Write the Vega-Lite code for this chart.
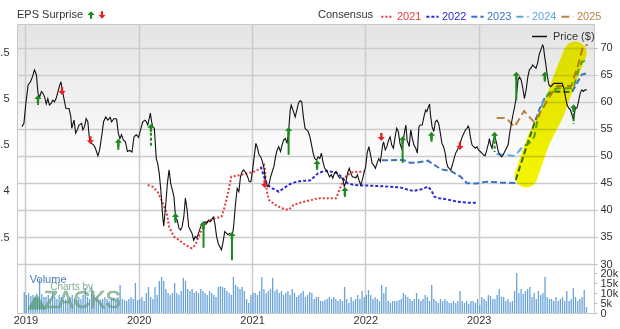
{
  "$schema": "https://vega.github.io/schema/vega-lite/v6.json",
  "width": 577,
  "height": 289,
  "autosize": "none",
  "padding": {"left": 17, "top": 24, "right": 26, "bottom": 16},
  "background": "#ffffff",
  "config": {
    "font": "Liberation Sans",
    "view": {"stroke": "#c8c8c8", "strokeWidth": 1, "fill": {"gradient": "linear", "x1": 0, "y1": 0, "x2": 0, "y2": 1, "stops": [{"offset": 0, "color": "#e4e4e4"}, {"offset": 0.25, "color": "#f0f0f0"}, {"offset": 0.5, "color": "#ffffff"}, {"offset": 1, "color": "#ffffff"}]}},
    "axis": {"labelFont": "Liberation Sans", "labelFontSize": 11, "labelColor": "#333333", "title": null, "labelOverlap": false},
    "legend": {"labelFont": "Liberation Sans", "titleFont": "Liberation Sans"}
  },
  "datasets": {
    "price": [
      {"t":2018.970,"p":55.4},{"t":2018.987,"p":56.0},{"t":2019.004,"p":59.7},{"t":2019.024,"p":63.1},{"t":2019.045,"p":63.7},{"t":2019.062,"p":64.6},{"t":2019.080,"p":65.9},{"t":2019.097,"p":65.0},{"t":2019.111,"p":61.6},{"t":2019.126,"p":60.9},{"t":2019.141,"p":61.9},{"t":2019.154,"p":61.6},{"t":2019.169,"p":60.9},{"t":2019.184,"p":59.6},{"t":2019.198,"p":60.6},{"t":2019.212,"p":59.4},{"t":2019.227,"p":59.7},{"t":2019.241,"p":60.3},{"t":2019.256,"p":60.0},{"t":2019.271,"p":60.6},{"t":2019.284,"p":61.6},{"t":2019.299,"p":62.8},{"t":2019.314,"p":63.7},{"t":2019.328,"p":61.9},{"t":2019.343,"p":60.3},{"t":2019.357,"p":58.8},{"t":2019.386,"p":58.7},{"t":2019.401,"p":57.2},{"t":2019.409,"p":55.1},{"t":2019.429,"p":56.6},{"t":2019.444,"p":54.2},{"t":2019.458,"p":54.8},{"t":2019.473,"p":55.7},{"t":2019.496,"p":56.0},{"t":2019.507,"p":54.8},{"t":2019.522,"p":55.4},{"t":2019.536,"p":56.9},{"t":2019.551,"p":56.3},{"t":2019.559,"p":54.5},{"t":2019.568,"p":52.6},{"t":2019.583,"p":52.3},{"t":2019.603,"p":52.0},{"t":2019.618,"p":51.4},{"t":2019.640,"p":50.0},{"t":2019.655,"p":51.1},{"t":2019.675,"p":53.9},{"t":2019.690,"p":56.3},{"t":2019.709,"p":57.2},{"t":2019.727,"p":56.6},{"t":2019.748,"p":57.1},{"t":2019.761,"p":56.3},{"t":2019.782,"p":56.9},{"t":2019.805,"p":56.8},{"t":2019.820,"p":54.2},{"t":2019.834,"p":53.2},{"t":2019.848,"p":53.9},{"t":2019.866,"p":52.9},{"t":2019.883,"p":52.6},{"t":2019.900,"p":50.8},{"t":2019.921,"p":51.0},{"t":2019.941,"p":50.7},{"t":2019.958,"p":53.5},{"t":2019.978,"p":53.9},{"t":2019.999,"p":53.4},
      {"t":2020.016,"p":54.8},{"t":2020.036,"p":56.3},{"t":2020.054,"p":56.6},{"t":2020.068,"p":56.3},{"t":2020.080,"p":55.7},{"t":2020.095,"p":57.1},{"t":2020.103,"p":57.9},{"t":2020.114,"p":56.3},{"t":2020.123,"p":55.4},{"t":2020.138,"p":55.1},{"t":2020.155,"p":49.5},{"t":2020.167,"p":48.6},{"t":2020.181,"p":46.8},{"t":2020.195,"p":43.7},{"t":2020.212,"p":38.7},{"t":2020.221,"p":37.0},{"t":2020.238,"p":40.9},{"t":2020.253,"p":44.9},{"t":2020.268,"p":47.4},{"t":2020.282,"p":44.9},{"t":2020.297,"p":43.7},{"t":2020.311,"p":42.4},{"t":2020.325,"p":38.7},{"t":2020.340,"p":38.1},{"t":2020.355,"p":36.6},{"t":2020.369,"p":36.3},{"t":2020.383,"p":36.9},{"t":2020.398,"p":38.7},{"t":2020.412,"p":42.2},{"t":2020.427,"p":40.0},{"t":2020.441,"p":36.9},{"t":2020.455,"p":36.3},{"t":2020.470,"p":35.7},{"t":2020.485,"p":34.4},{"t":2020.499,"p":35.1},{"t":2020.513,"p":34.8},{"t":2020.528,"p":35.7},{"t":2020.542,"p":36.6},{"t":2020.557,"p":37.5},{"t":2020.572,"p":37.5},{"t":2020.585,"p":37.8},{"t":2020.600,"p":37.5},{"t":2020.615,"p":38.1},{"t":2020.629,"p":37.8},{"t":2020.643,"p":38.1},{"t":2020.658,"p":38.7},{"t":2020.672,"p":37.5},{"t":2020.687,"p":35.1},{"t":2020.702,"p":33.8},{"t":2020.716,"p":33.2},{"t":2020.730,"p":32.6},{"t":2020.745,"p":34.1},{"t":2020.759,"p":36.0},{"t":2020.774,"p":35.7},{"t":2020.788,"p":35.4},{"t":2020.802,"p":35.7},{"t":2020.817,"p":35.4},{"t":2020.832,"p":36.0},{"t":2020.840,"p":37.5},{"t":2020.852,"p":40.6},{"t":2020.869,"p":44.0},{"t":2020.884,"p":43.4},{"t":2020.898,"p":46.1},{"t":2020.912,"p":47.1},{"t":2020.927,"p":47.4},{"t":2020.947,"p":46.8},{"t":2020.962,"p":46.1},{"t":2020.976,"p":45.2},{"t":2020.990,"p":45.2},
      {"t":2021.005,"p":47.4},{"t":2021.019,"p":49.8},{"t":2021.034,"p":52.3},{"t":2021.049,"p":51.4},{"t":2021.062,"p":50.2},{"t":2021.077,"p":49.8},{"t":2021.092,"p":48.9},{"t":2021.106,"p":47.7},{"t":2021.121,"p":44.9},{"t":2021.135,"p":44.3},{"t":2021.149,"p":44.6},{"t":2021.164,"p":46.1},{"t":2021.179,"p":47.1},{"t":2021.193,"p":48.0},{"t":2021.207,"p":49.8},{"t":2021.222,"p":51.1},{"t":2021.236,"p":51.7},{"t":2021.251,"p":50.8},{"t":2021.265,"p":52.0},{"t":2021.279,"p":52.9},{"t":2021.294,"p":53.2},{"t":2021.309,"p":52.3},{"t":2021.323,"p":54.5},{"t":2021.337,"p":58.5},{"t":2021.346,"p":59.4},{"t":2021.361,"p":58.5},{"t":2021.381,"p":57.2},{"t":2021.396,"p":58.5},{"t":2021.409,"p":59.7},{"t":2021.424,"p":60.2},{"t":2021.439,"p":60.0},{"t":2021.453,"p":57.2},{"t":2021.468,"p":55.1},{"t":2021.496,"p":54.5},{"t":2021.511,"p":53.5},{"t":2021.526,"p":52.0},{"t":2021.539,"p":50.5},{"t":2021.554,"p":49.5},{"t":2021.569,"p":49.2},{"t":2021.583,"p":49.8},{"t":2021.598,"p":49.5},{"t":2021.612,"p":50.5},{"t":2021.626,"p":48.9},{"t":2021.641,"p":47.7},{"t":2021.656,"p":47.4},{"t":2021.670,"p":46.8},{"t":2021.684,"p":46.1},{"t":2021.699,"p":46.5},{"t":2021.713,"p":45.9},{"t":2021.728,"p":46.8},{"t":2021.742,"p":47.1},{"t":2021.756,"p":46.5},{"t":2021.771,"p":45.9},{"t":2021.786,"p":45.9},{"t":2021.800,"p":45.9},{"t":2021.814,"p":44.3},{"t":2021.829,"p":45.2},{"t":2021.843,"p":46.8},{"t":2021.858,"p":47.7},{"t":2021.872,"p":46.8},{"t":2021.886,"p":46.1},{"t":2021.901,"p":46.1},{"t":2021.916,"p":45.9},{"t":2021.930,"p":46.5},{"t":2021.944,"p":45.5},{"t":2021.959,"p":44.6},{"t":2021.973,"p":45.5},{"t":2021.988,"p":46.8},
      {"t":2022.003,"p":48.0},{"t":2022.016,"p":50.5},{"t":2022.031,"p":51.7},{"t":2022.046,"p":50.2},{"t":2022.060,"p":48.6},{"t":2022.074,"p":48.3},{"t":2022.089,"p":47.7},{"t":2022.103,"p":48.6},{"t":2022.118,"p":49.5},{"t":2022.133,"p":48.9},{"t":2022.141,"p":50.2},{"t":2022.153,"p":52.0},{"t":2022.161,"p":52.6},{"t":2022.176,"p":51.1},{"t":2022.190,"p":51.7},{"t":2022.205,"p":52.9},{"t":2022.219,"p":53.5},{"t":2022.233,"p":52.0},{"t":2022.248,"p":51.4},{"t":2022.263,"p":53.5},{"t":2022.277,"p":55.1},{"t":2022.291,"p":54.5},{"t":2022.306,"p":52.3},{"t":2022.320,"p":51.4},{"t":2022.335,"p":52.9},{"t":2022.349,"p":54.8},{"t":2022.358,"p":55.7},{"t":2022.369,"p":52.9},{"t":2022.387,"p":51.7},{"t":2022.401,"p":54.8},{"t":2022.415,"p":53.2},{"t":2022.429,"p":52.0},{"t":2022.445,"p":51.4},{"t":2022.459,"p":50.5},{"t":2022.473,"p":55.4},{"t":2022.485,"p":55.7},{"t":2022.502,"p":55.7},{"t":2022.517,"p":57.2},{"t":2022.532,"p":58.5},{"t":2022.543,"p":58.2},{"t":2022.558,"p":59.1},{"t":2022.567,"p":59.6},{"t":2022.575,"p":57.6},{"t":2022.589,"p":55.4},{"t":2022.604,"p":54.5},{"t":2022.618,"p":56.3},{"t":2022.632,"p":56.6},{"t":2022.647,"p":56.0},{"t":2022.662,"p":54.2},{"t":2022.676,"p":52.3},{"t":2022.690,"p":51.7},{"t":2022.705,"p":50.5},{"t":2022.716,"p":48.9},{"t":2022.727,"p":48.0},{"t":2022.740,"p":47.7},{"t":2022.754,"p":47.4},{"t":2022.768,"p":48.3},{"t":2022.783,"p":49.5},{"t":2022.797,"p":50.5},{"t":2022.812,"p":51.1},{"t":2022.827,"p":51.8},{"t":2022.840,"p":52.6},{"t":2022.855,"p":53.5},{"t":2022.870,"p":54.2},{"t":2022.884,"p":54.8},{"t":2022.898,"p":55.1},{"t":2022.907,"p":55.5},{"t":2022.916,"p":55.1},{"t":2022.927,"p":53.5},{"t":2022.942,"p":52.0},{"t":2022.957,"p":51.7},{"t":2022.970,"p":51.4},{"t":2022.985,"p":51.7},
      {"t":2023.000,"p":51.1},{"t":2023.014,"p":50.8},{"t":2023.029,"p":50.5},{"t":2023.043,"p":50.2},{"t":2023.057,"p":50.0},{"t":2023.072,"p":51.1},{"t":2023.087,"p":52.3},{"t":2023.095,"p":53.2},{"t":2023.107,"p":52.0},{"t":2023.118,"p":51.4},{"t":2023.130,"p":52.9},{"t":2023.144,"p":53.5},{"t":2023.159,"p":52.3},{"t":2023.173,"p":50.8},{"t":2023.187,"p":50.2},{"t":2023.202,"p":49.8},{"t":2023.217,"p":50.2},{"t":2023.231,"p":50.8},{"t":2023.245,"p":51.4},{"t":2023.260,"p":52.0},{"t":2023.274,"p":54.2},{"t":2023.289,"p":56.0},{"t":2023.303,"p":57.6},{"t":2023.318,"p":59.1},{"t":2023.333,"p":60.9},{"t":2023.347,"p":64.0},{"t":2023.361,"p":64.6},{"t":2023.376,"p":64.0},{"t":2023.390,"p":62.5},{"t":2023.404,"p":60.6},{"t":2023.419,"p":62.2},{"t":2023.434,"p":64.6},{"t":2023.448,"p":65.9},{"t":2023.462,"p":66.2},{"t":2023.477,"p":66.8},{"t":2023.491,"p":66.5},{"t":2023.506,"p":66.2},{"t":2023.520,"p":67.1},{"t":2023.534,"p":68.7},{"t":2023.549,"p":69.6},{"t":2023.564,"p":70.5},{"t":2023.572,"p":70.2},{"t":2023.583,"p":68.3},{"t":2023.592,"p":67.1},{"t":2023.607,"p":64.6},{"t":2023.621,"p":63.1},{"t":2023.636,"p":62.8},{"t":2023.650,"p":63.1},{"t":2023.664,"p":63.4},{"t":2023.694,"p":63.4},{"t":2023.737,"p":63.4},{"t":2023.752,"p":62.5},{"t":2023.766,"p":60.9},{"t":2023.781,"p":59.4},{"t":2023.795,"p":58.8},{"t":2023.809,"p":58.5},{"t":2023.824,"p":57.6},{"t":2023.838,"p":56.6},{"t":2023.853,"p":58.8},{"t":2023.867,"p":58.8},{"t":2023.881,"p":60.0},{"t":2023.896,"p":61.6},{"t":2023.911,"p":62.2},{"t":2023.924,"p":61.9},{"t":2023.939,"p":62.2},{"t":2023.954,"p":62.2}
    ],
    "consensus": [
      {"yr":"2021","t":2020.080,"eps":4.065},{"yr":"2021","t":2020.123,"eps":4.046},{"yr":"2021","t":2020.166,"eps":3.992},{"yr":"2021","t":2020.201,"eps":3.903},{"yr":"2021","t":2020.225,"eps":3.830},{"yr":"2021","t":2020.247,"eps":3.762},{"yr":"2021","t":2020.268,"eps":3.614},{"yr":"2021","t":2020.311,"eps":3.506},{"yr":"2021","t":2020.355,"eps":3.470},{"yr":"2021","t":2020.412,"eps":3.416},{"yr":"2021","t":2020.470,"eps":3.380},{"yr":"2021","t":2020.499,"eps":3.416},{"yr":"2021","t":2020.542,"eps":3.543},{"yr":"2021","t":2020.585,"eps":3.651},{"yr":"2021","t":2020.629,"eps":3.686},{"yr":"2021","t":2020.672,"eps":3.705},{"yr":"2021","t":2020.730,"eps":3.722},{"yr":"2021","t":2020.759,"eps":3.830},{"yr":"2021","t":2020.788,"eps":3.975},{"yr":"2021","t":2020.817,"eps":4.155},{"yr":"2021","t":2020.904,"eps":4.173},{"yr":"2021","t":2020.962,"eps":4.191},{"yr":"2021","t":2021.019,"eps":4.209},{"yr":"2021","t":2021.077,"eps":4.245},{"yr":"2021","t":2021.106,"eps":4.281},{"yr":"2021","t":2021.114,"eps":4.227},{"yr":"2021","t":2021.129,"eps":4.011},{"yr":"2021","t":2021.149,"eps":3.903},{"yr":"2021","t":2021.207,"eps":3.849},{"yr":"2021","t":2021.265,"eps":3.813},{"yr":"2021","t":2021.323,"eps":3.795},{"yr":"2021","t":2021.366,"eps":3.849},{"yr":"2021","t":2021.424,"eps":3.873},{"yr":"2021","t":2021.526,"eps":3.903},{"yr":"2021","t":2021.583,"eps":3.921},{"yr":"2021","t":2021.699,"eps":3.921},{"yr":"2021","t":2021.742,"eps":3.921},{"yr":"2021","t":2021.771,"eps":4.011},{"yr":"2021","t":2021.800,"eps":4.101},{"yr":"2021","t":2021.829,"eps":4.155},{"yr":"2021","t":2021.872,"eps":4.198},{"yr":"2021","t":2021.930,"eps":4.209},{"yr":"2021","t":2021.988,"eps":4.209},
      {"yr":"2022","t":2021.077,"eps":4.263},{"yr":"2022","t":2021.106,"eps":4.155},{"yr":"2022","t":2021.135,"eps":4.065},{"yr":"2022","t":2021.179,"eps":4.029},{"yr":"2022","t":2021.236,"eps":3.992},{"yr":"2022","t":2021.279,"eps":4.029},{"yr":"2022","t":2021.337,"eps":4.076},{"yr":"2022","t":2021.396,"eps":4.101},{"yr":"2022","t":2021.453,"eps":4.111},{"yr":"2022","t":2021.511,"eps":4.113},{"yr":"2022","t":2021.583,"eps":4.191},{"yr":"2022","t":2021.641,"eps":4.219},{"yr":"2022","t":2021.699,"eps":4.209},{"yr":"2022","t":2021.756,"eps":4.191},{"yr":"2022","t":2021.800,"eps":4.137},{"yr":"2022","t":2021.843,"eps":4.083},{"yr":"2022","t":2021.901,"eps":4.065},{"yr":"2022","t":2022.046,"eps":4.057},{"yr":"2022","t":2022.219,"eps":4.046},{"yr":"2022","t":2022.306,"eps":4.040},{"yr":"2022","t":2022.363,"eps":4.018},{"yr":"2022","t":2022.421,"eps":4.000},{"yr":"2022","t":2022.493,"eps":4.018},{"yr":"2022","t":2022.552,"eps":4.046},{"yr":"2022","t":2022.581,"eps":4.011},{"yr":"2022","t":2022.610,"eps":3.938},{"yr":"2022","t":2022.653,"eps":3.921},{"yr":"2022","t":2022.725,"eps":3.908},{"yr":"2022","t":2022.812,"eps":3.884},{"yr":"2022","t":2022.899,"eps":3.873},{"yr":"2022","t":2022.986,"eps":3.873},
      {"yr":"2023","t":2022.147,"eps":4.332},{"yr":"2023","t":2022.335,"eps":4.335},{"yr":"2023","t":2022.393,"eps":4.306},{"yr":"2023","t":2022.450,"eps":4.306},{"yr":"2023","t":2022.552,"eps":4.328},{"yr":"2023","t":2022.610,"eps":4.281},{"yr":"2023","t":2022.667,"eps":4.235},{"yr":"2023","t":2022.754,"eps":4.216},{"yr":"2023","t":2022.840,"eps":4.155},{"yr":"2023","t":2022.898,"eps":4.083},{"yr":"2023","t":2022.985,"eps":4.081},{"yr":"2023","t":2023.072,"eps":4.101},{"yr":"2023","t":2023.202,"eps":4.090},{"yr":"2023","t":2023.319,"eps":4.086},{"yr":"2023","t":2023.361,"eps":4.249},{"yr":"2023","t":2023.419,"eps":4.465},{"yr":"2023","t":2023.477,"eps":4.681},{"yr":"2023","t":2023.534,"eps":4.876},{"yr":"2023","t":2023.578,"eps":4.995},{"yr":"2023","t":2023.621,"eps":5.054},{"yr":"2023","t":2023.664,"eps":5.076},{"yr":"2023","t":2023.824,"eps":5.070},{"yr":"2023","t":2023.867,"eps":5.164},{"yr":"2023","t":2023.911,"eps":5.259},{"yr":"2023","t":2023.965,"eps":5.276},
      {"yr":"2024","t":2023.159,"eps":4.400},{"yr":"2024","t":2023.231,"eps":4.389},{"yr":"2024","t":2023.318,"eps":4.378},{"yr":"2024","t":2023.350,"eps":4.422},{"yr":"2024","t":2023.393,"eps":4.486},{"yr":"2024","t":2023.445,"eps":4.514},{"yr":"2024","t":2023.491,"eps":4.587},{"yr":"2024","t":2023.520,"eps":4.768},{"yr":"2024","t":2023.564,"eps":4.948},{"yr":"2024","t":2023.607,"eps":5.038},{"yr":"2024","t":2023.650,"eps":5.092},{"yr":"2024","t":2023.708,"eps":5.110},{"yr":"2024","t":2023.838,"eps":5.110},{"yr":"2024","t":2023.881,"eps":5.308},{"yr":"2024","t":2023.911,"eps":5.398},{"yr":"2024","t":2023.957,"eps":5.409},
      {"yr":"2025","t":2023.159,"eps":4.789},{"yr":"2025","t":2023.245,"eps":4.789},{"yr":"2025","t":2023.315,"eps":4.692},{"yr":"2025","t":2023.401,"eps":4.865},{"yr":"2025","t":2023.488,"eps":4.746},{"yr":"2025","t":2023.558,"eps":4.876},{"yr":"2025","t":2023.635,"eps":5.038},{"yr":"2025","t":2023.696,"eps":5.135},{"yr":"2025","t":2023.817,"eps":5.135},{"yr":"2025","t":2023.878,"eps":5.362},{"yr":"2025","t":2023.922,"eps":5.568},{"yr":"2025","t":2023.965,"eps":5.578}
    ],
    "heads": [
      {"t":2019.111,"p":60.5,"dir":"up"},{"t":2019.820,"p":52.4,"dir":"up"},{"t":2020.108,"p":55.2,"dir":"up"},{"t":2020.325,"p":38.7,"dir":"up"},{"t":2020.572,"p":37.2,"dir":"up"},{"t":2020.823,"p":35.2,"dir":"up"},{"t":2021.323,"p":54.6,"dir":"up"},{"t":2021.574,"p":48.5,"dir":"up"},{"t":2021.820,"p":43.5,"dir":"up"},{"t":2022.329,"p":52.9,"dir":"up"},{"t":2022.584,"p":53.7,"dir":"up"},{"t":2023.141,"p":53.7,"dir":"up"},{"t":2023.332,"p":64.8,"dir":"up"},{"t":2023.584,"p":64.8,"dir":"up"},{"t":2023.838,"p":58.8,"dir":"up"},
      {"t":2019.323,"p":62.0,"dir":"down"},{"t":2019.574,"p":52.9,"dir":"down"},{"t":2021.112,"p":44.8,"dir":"down"},{"t":2022.141,"p":53.5,"dir":"down"},{"t":2022.835,"p":51.8,"dir":"down"}
    ],
    "stems": [
      {"t":2019.111,"top":60.5,"base":59.4},{"t":2019.820,"top":52.4,"base":51.1},{"t":2020.325,"top":38.7,"base":37.6},{"t":2020.572,"top":37.2,"base":33.0},{"t":2020.823,"top":35.2,"base":30.7},{"t":2021.323,"top":54.6,"base":50.2},{"t":2021.574,"top":48.5,"base":47.4},{"t":2021.820,"top":43.5,"base":42.4},{"t":2022.329,"top":52.9,"base":48.7},{"t":2022.584,"top":53.7,"base":52.6},{"t":2023.332,"top":64.8,"base":60.3},{"t":2023.584,"top":64.8,"base":63.7}
    ],
    "stemsPending": [
      {"t":2020.108,"top":55.2,"base":51.5},{"t":2023.141,"top":53.7,"base":50.7},{"t":2023.838,"top":58.8,"base":55.9}
    ],
    "highlight": [
      {"t":2023.419,"p":46.3},{"t":2023.531,"p":52.9},{"t":2023.661,"p":58.5},{"t":2023.756,"p":64.0},{"t":2023.852,"p":69.0}
    ],
    "volume": [
      {"t":2018.990,"v":10.5},{"t":2019.009,"v":9},{"t":2019.028,"v":10},{"t":2019.048,"v":8.5},{"t":2019.067,"v":9},{"t":2019.086,"v":8},{"t":2019.105,"v":7.5},{"t":2019.125,"v":17},{"t":2019.144,"v":9.5},{"t":2019.163,"v":8},{"t":2019.182,"v":8},{"t":2019.202,"v":9},{"t":2019.221,"v":7},{"t":2019.240,"v":10},{"t":2019.259,"v":8},{"t":2019.278,"v":7},{"t":2019.298,"v":9},{"t":2019.317,"v":8},{"t":2019.336,"v":6.5},{"t":2019.355,"v":7},{"t":2019.375,"v":7},{"t":2019.394,"v":8},{"t":2019.413,"v":9},{"t":2019.432,"v":7},{"t":2019.452,"v":6.5},{"t":2019.471,"v":8},{"t":2019.490,"v":7},{"t":2019.509,"v":9},{"t":2019.528,"v":12.5},{"t":2019.548,"v":8},{"t":2019.567,"v":7},{"t":2019.586,"v":13},{"t":2019.605,"v":9},{"t":2019.625,"v":8},{"t":2019.644,"v":7},{"t":2019.663,"v":6.5},{"t":2019.682,"v":7},{"t":2019.702,"v":8},{"t":2019.721,"v":7},{"t":2019.740,"v":6},{"t":2019.759,"v":7},{"t":2019.778,"v":7.5},{"t":2019.798,"v":6},{"t":2019.817,"v":8},{"t":2019.836,"v":14},{"t":2019.855,"v":7},{"t":2019.875,"v":6.5},{"t":2019.894,"v":6},{"t":2019.913,"v":7},{"t":2019.932,"v":8},{"t":2019.952,"v":7},{"t":2019.971,"v":15},
      {"t":2019.990,"v":6.5},{"t":2020.009,"v":7},{"t":2020.028,"v":8},{"t":2020.048,"v":6},{"t":2020.067,"v":10},{"t":2020.086,"v":13},{"t":2020.105,"v":8},{"t":2020.125,"v":7},{"t":2020.144,"v":13},{"t":2020.163,"v":9},{"t":2020.182,"v":16},{"t":2020.202,"v":18},{"t":2020.221,"v":16},{"t":2020.240,"v":12},{"t":2020.259,"v":10},{"t":2020.278,"v":9},{"t":2020.298,"v":10},{"t":2020.317,"v":15},{"t":2020.336,"v":10},{"t":2020.355,"v":9},{"t":2020.375,"v":11},{"t":2020.394,"v":17.5},{"t":2020.413,"v":16},{"t":2020.432,"v":12},{"t":2020.452,"v":11},{"t":2020.471,"v":12},{"t":2020.490,"v":10},{"t":2020.509,"v":11},{"t":2020.528,"v":10},{"t":2020.548,"v":12},{"t":2020.567,"v":11},{"t":2020.586,"v":10},{"t":2020.605,"v":9},{"t":2020.625,"v":11},{"t":2020.644,"v":10},{"t":2020.663,"v":9},{"t":2020.682,"v":8},{"t":2020.702,"v":13},{"t":2020.721,"v":13.5},{"t":2020.740,"v":13},{"t":2020.759,"v":12.5},{"t":2020.778,"v":11},{"t":2020.798,"v":10},{"t":2020.817,"v":9},{"t":2020.836,"v":18},{"t":2020.855,"v":14},{"t":2020.875,"v":13},{"t":2020.894,"v":12},{"t":2020.913,"v":13},{"t":2020.932,"v":11},{"t":2020.952,"v":7},{"t":2020.971,"v":5},
      {"t":2020.990,"v":9},{"t":2021.009,"v":10},{"t":2021.028,"v":10},{"t":2021.048,"v":9},{"t":2021.067,"v":11},{"t":2021.086,"v":18},{"t":2021.105,"v":12},{"t":2021.125,"v":10},{"t":2021.144,"v":11},{"t":2021.163,"v":12},{"t":2021.182,"v":17.5},{"t":2021.202,"v":11},{"t":2021.221,"v":12},{"t":2021.240,"v":10},{"t":2021.259,"v":11},{"t":2021.278,"v":9},{"t":2021.298,"v":10},{"t":2021.317,"v":11},{"t":2021.336,"v":9},{"t":2021.355,"v":12},{"t":2021.375,"v":10},{"t":2021.394,"v":8},{"t":2021.413,"v":9},{"t":2021.432,"v":10},{"t":2021.452,"v":11},{"t":2021.471,"v":8},{"t":2021.490,"v":9},{"t":2021.509,"v":10.5},{"t":2021.528,"v":10},{"t":2021.548,"v":7},{"t":2021.567,"v":8},{"t":2021.586,"v":8},{"t":2021.605,"v":6},{"t":2021.625,"v":6},{"t":2021.644,"v":6.5},{"t":2021.663,"v":7},{"t":2021.682,"v":8},{"t":2021.702,"v":7},{"t":2021.721,"v":8},{"t":2021.740,"v":7},{"t":2021.759,"v":6},{"t":2021.778,"v":7},{"t":2021.798,"v":6},{"t":2021.817,"v":13},{"t":2021.836,"v":7},{"t":2021.855,"v":5},{"t":2021.875,"v":8},{"t":2021.894,"v":6},{"t":2021.913,"v":7},{"t":2021.932,"v":9},{"t":2021.952,"v":7},{"t":2021.971,"v":11},
      {"t":2021.990,"v":8},{"t":2022.009,"v":9},{"t":2022.028,"v":11.5},{"t":2022.048,"v":9},{"t":2022.067,"v":7},{"t":2022.086,"v":8},{"t":2022.105,"v":7},{"t":2022.125,"v":6},{"t":2022.144,"v":14},{"t":2022.163,"v":10},{"t":2022.182,"v":13},{"t":2022.202,"v":6},{"t":2022.221,"v":5},{"t":2022.240,"v":6},{"t":2022.259,"v":6},{"t":2022.278,"v":6},{"t":2022.298,"v":6.5},{"t":2022.317,"v":7},{"t":2022.336,"v":10},{"t":2022.355,"v":9},{"t":2022.375,"v":8},{"t":2022.394,"v":7},{"t":2022.413,"v":6},{"t":2022.432,"v":7},{"t":2022.452,"v":10},{"t":2022.471,"v":7},{"t":2022.490,"v":6},{"t":2022.509,"v":7},{"t":2022.528,"v":9},{"t":2022.548,"v":8},{"t":2022.567,"v":6},{"t":2022.586,"v":14},{"t":2022.605,"v":7},{"t":2022.625,"v":6},{"t":2022.644,"v":5},{"t":2022.663,"v":7},{"t":2022.682,"v":6},{"t":2022.702,"v":7},{"t":2022.721,"v":6},{"t":2022.740,"v":5},{"t":2022.759,"v":5},{"t":2022.778,"v":6},{"t":2022.798,"v":5},{"t":2022.817,"v":6},{"t":2022.836,"v":11},{"t":2022.855,"v":6},{"t":2022.875,"v":5},{"t":2022.894,"v":6},{"t":2022.913,"v":4.5},{"t":2022.932,"v":6},{"t":2022.952,"v":6},{"t":2022.971,"v":5},
      {"t":2022.990,"v":7},{"t":2023.009,"v":4},{"t":2023.028,"v":8},{"t":2023.048,"v":7},{"t":2023.067,"v":6},{"t":2023.086,"v":9},{"t":2023.105,"v":8.5},{"t":2023.125,"v":7},{"t":2023.144,"v":7},{"t":2023.163,"v":9},{"t":2023.182,"v":12},{"t":2023.202,"v":8},{"t":2023.221,"v":8},{"t":2023.240,"v":6},{"t":2023.259,"v":7},{"t":2023.278,"v":5.5},{"t":2023.298,"v":6},{"t":2023.317,"v":11},{"t":2023.336,"v":20},{"t":2023.355,"v":10},{"t":2023.375,"v":12},{"t":2023.394,"v":9.5},{"t":2023.413,"v":11},{"t":2023.432,"v":12},{"t":2023.452,"v":13},{"t":2023.471,"v":8},{"t":2023.490,"v":10},{"t":2023.509,"v":7},{"t":2023.528,"v":11},{"t":2023.548,"v":9},{"t":2023.567,"v":10},{"t":2023.586,"v":18},{"t":2023.605,"v":8},{"t":2023.625,"v":7},{"t":2023.644,"v":7},{"t":2023.663,"v":6},{"t":2023.682,"v":8},{"t":2023.702,"v":6},{"t":2023.721,"v":7},{"t":2023.740,"v":8},{"t":2023.759,"v":6},{"t":2023.778,"v":11},{"t":2023.798,"v":6},{"t":2023.817,"v":7},{"t":2023.836,"v":12.5},{"t":2023.855,"v":8},{"t":2023.875,"v":6},{"t":2023.894,"v":7},{"t":2023.913,"v":8},{"t":2023.932,"v":11.5},{"t":2023.952,"v":3}
    ]
  },
  "encoding": {
    "x": {"field": "t", "type": "quantitative", "scale": {"domain": [2018.97, 2023.974], "nice": false, "zero": false},
      "axis": {"values": [2019, 2020, 2021, 2022, 2023], "format": "d", "grid": true, "gridColor": "#cccccc", "gridWidth": 1.5, "ticks": false, "domain": false, "labelPadding": 1, "labelFlush": false, "title": null}}
  },
  "layer": [
    {
      "encoding": {
        "y": {"field": "v", "type": "quantitative", "scale": {"domain": [0, 144.5], "nice": false, "zero": false},
          "axis": {"orient": "right", "values": [0, 5, 10, 15, 20], "labelExpr": "datum.value == 0 ? '0' : datum.value + 'k'", "grid": false, "domain": false, "ticks": true, "tickSize": 3, "tickColor": "#bbbbbb", "labelPadding": 3, "labelOverlap": false, "labelFlush": false, "title": null}}
      },
      "layer": [
        {"data": {"name": "volume"}, "mark": {"type": "bar", "width": 1.3, "color": "#6aa3d8"}},
        {"data": {"values": [{"t": 2019.100, "v": 5.8}]}, "mark": {"type": "point", "shape": "triangle-up", "size": 360, "filled": true, "color": "#3f9158", "opacity": 0.6}},
        {"data": {"values": [{"t": 2019.503, "v": 6, "label": "ZACKS"}]}, "mark": {"type": "text", "fontSize": 23, "font": "Liberation Sans", "color": "#6fa883", "opacity": 0.7, "stroke": "#4f8a63", "strokeWidth": 0.6}, "encoding": {"text": {"field": "label"}}},
        {"data": {"values": [{"t": 2019.408, "v": 13.25, "label": "Charts by"}]}, "mark": {"type": "text", "fontSize": 10, "color": "#6fa283", "opacity": 0.9}, "encoding": {"text": {"field": "label"}}},
        {"data": {"values": [{"t": 2019.039, "v": 16.5, "label": "Volume"}]}, "mark": {"type": "text", "fontSize": 11, "align": "left", "color": "#4a7db3"}, "encoding": {"text": {"field": "label"}}}
      ]
    },
    {
      "data": {"name": "consensus"},
      "mark": {"type": "line", "strokeWidth": 2},
      "encoding": {
        "y": {"field": "eps", "type": "quantitative", "scale": {"domain": [2.681, 5.805], "nice": false, "zero": false},
          "axis": {"orient": "left", "values": [3.5, 4, 4.5, 5, 5.5], "format": "~g", "grid": false, "domain": false, "ticks": false, "labelPadding": 8, "labelOverlap": false, "labelFlush": false, "title": null}},
        "color": {"field": "yr", "type": "nominal",
          "scale": {"domain": ["2021", "2022", "2023", "2024", "2025"], "range": ["#e53a3a", "#2a2ad8", "#3b72c2", "#5aa8dc", "#b8843f"]},
          "legend": {"title": "Consensus", "orient": "none", "legendX": 301, "legendY": -15, "direction": "horizontal", "titleOrient": "left", "titleFontSize": 11, "titleFontWeight": "normal", "titleColor": "#333333", "titlePadding": 6, "labelFontSize": 11, "symbolType": "stroke", "symbolSize": 150, "symbolStrokeWidth": 2, "labelOffset": 2, "columnPadding": 0,
            "encode": {"labels": {"update": {"fill": {"scale": "color", "field": "value"}}}}}},
        "strokeDash": {"field": "yr", "type": "nominal",
          "scale": {"domain": ["2021", "2022", "2023", "2024", "2025"], "range": [[2, 2], [3, 2], [6, 3], [7, 4], [8, 4]]},
          "legend": {"title": "Consensus", "orient": "none", "legendX": 301, "legendY": -15, "direction": "horizontal", "titleOrient": "left", "titleFontSize": 11, "titleFontWeight": "normal", "titleColor": "#333333", "titlePadding": 6, "labelFontSize": 11, "symbolType": "stroke", "symbolSize": 150, "symbolStrokeWidth": 2, "labelOffset": 2, "columnPadding": 0}}
      }
    },
    {
      "encoding": {
        "y": {"field": "p", "type": "quantitative", "scale": {"domain": [20.94, 74.38], "nice": false, "zero": false},
          "axis": {"orient": "right", "values": [30, 35, 40, 45, 50, 55, 60, 65, 70], "grid": true, "gridColor": "#cccccc", "gridWidth": 1.5, "domain": false, "ticks": true, "tickSize": 3, "tickColor": "#bbbbbb", "labelPadding": 3, "labelOverlap": false, "labelFlush": false, "title": null}}
      },
      "layer": [
        {"data": {"name": "price"}, "mark": {"type": "line", "strokeWidth": 1.1},
          "encoding": {"stroke": {"datum": "Price ($)", "scale": {"range": ["#111111"]},
            "legend": {"title": null, "orient": "none", "legendX": 514, "legendY": 4, "symbolType": "stroke", "symbolSize": 225, "symbolStrokeWidth": 1.5, "labelFontSize": 11, "labelColor": "#333333", "labelOffset": 5}}}},
        {"data": {"name": "stems"}, "mark": {"type": "rule", "color": "#1d8a1d", "strokeWidth": 2},
          "encoding": {"y": {"field": "top", "type": "quantitative"}, "y2": {"field": "base"}}},
        {"data": {"name": "stemsPending"}, "mark": {"type": "rule", "color": "#1d8a1d", "strokeWidth": 2, "strokeDash": [3, 2]},
          "encoding": {"y": {"field": "top", "type": "quantitative"}, "y2": {"field": "base"}}},
        {"data": {"name": "heads"}, "mark": {"type": "point", "filled": true, "size": 64, "opacity": 1, "strokeWidth": 0},
          "encoding": {
            "shape": {"field": "dir", "type": "nominal", "scale": {"domain": ["up", "down"], "range": ["M0,-1L0.9,0L0.3,0L0.3,1L-0.3,1L-0.3,0L-0.9,0Z", "M0,1L0.9,0L0.3,0L0.3,-1L-0.3,-1L-0.3,0L-0.9,0Z"]},
              "legend": {"title": "EPS Surprise", "orient": "none", "legendX": 0, "legendY": -14, "direction": "horizontal", "titleOrient": "left", "titleFontSize": 11, "titleFontWeight": "normal", "titleColor": "#333333", "titlePadding": 2, "labelExpr": "''", "labelOffset": 0, "columnPadding": 1, "symbolSize": 60, "symbolStrokeWidth": 0}},
            "fill": {"field": "dir", "type": "nominal", "scale": {"domain": ["up", "down"], "range": ["#1d8a1d", "#e82222"]},
              "legend": {"title": "EPS Surprise", "orient": "none", "legendX": 0, "legendY": -14, "direction": "horizontal", "titleOrient": "left", "titleFontSize": 11, "titleFontWeight": "normal", "titleColor": "#333333", "titlePadding": 2, "labelExpr": "''", "labelOffset": 0, "columnPadding": 1, "symbolSize": 60, "symbolStrokeWidth": 0}}
          }},
        {"data": {"name": "highlight"}, "mark": {"type": "line", "color": "#f4f400", "strokeWidth": 23, "strokeCap": "round", "strokeJoin": "round", "blend": "multiply", "interpolate": "monotone"}}
      ]
    }
  ],
  "resolve": {"scale": {"y": "independent"}, "axis": {"y": "independent"}}
}
